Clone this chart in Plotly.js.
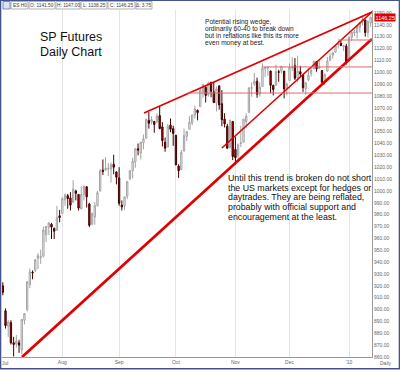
<!DOCTYPE html>
<html><head><meta charset="utf-8">
<script src="https://cdn.plot.ly/plotly-3.0.1.min.js"></script>
<style>html,body{margin:0;padding:0;background:#fff}#chart{width:400px;height:370px}</style>
</head><body><div id="chart"></div>
<script>
// ---- Data (ES H0 daily, Jul 2009 - Jan 2010) ----
const monthTickIdx = [0, 22, 43, 64, 86, 106, 128];
const monthTickLabels = ['Jul', 'Aug', 'Sep', 'Oct', 'Nov', 'Dec', "'10"];

const open = [
 920,899,886,889,872,871,872,866,891,900,921,931.5,933,943,944,945,963,969.5,972,968.5,967,979,
 981,992.5,996,994,990.5,1000,997,985,997,1003.5,989,972,978,987.5,1000,1017.5,1017.5,1018.5,1018.5,1022.5,1016,
 1011,988,987.5,995.5,1010,1017,1024.5,1035.5,1032,1040.5,1044.5,1059.5,1058,1058.5,1058,1063.5,1054,1041,1037,1055.5,1052.5,
 1047,1021,1018,1033.5,1046,1052,1057.5,1064,1068,1071,1083.5,1087.5,1081,1091.5,1083.5,1074,1088.5,1073.5,1060.5,1054.5,1036.5,1058.5,
 1035,1030,1040,1041,1058.5,1066,1086.5,1090,1092.5,1081.5,1088,1103,1103.5,1101,1089,1089,1100.5,1101,1101,1086.5,
 1093,1104,1105.5,1095.5,1100.5,1098,1086,1093.5,1099,1103,1109,1103.5,1101.5,1093,1101,1110,1114.5,1117,1123.5,1124.5,1121.5,1122,
 1111,1129.5,1133,1133.5,1138,1143,1144,1133.5,1141.5
];
const high = [
 923,901,891,891,877,878.5,874.5,892,897,923.5,934.5,933,942.5,947.5,950.5,970,970.5,973.5,973,969,987.5,984,
 994.5,998,997.5,999,1009,1001,997.5,1004,1004.5,1004,990,982,990.5,1000,1018.5,1026.5,1028.5,1023.5,1024,1030.5,1016.5,
 1020,992,995,1008,1017.5,1028,1035.5,1040,1041.5,1047.5,1060.5,1066.5,1063,1059,1065.5,1071.5,1058,1045,1056.5,1061,1055,
 1047,1022.5,1034.5,1052.5,1050.5,1063,1064,1072,1068.5,1086,1090,1088,1092,1092,1092,1088,1089,1085,1065.5,1056.5,1060,1059,
 1045.5,1040,1055,1060.5,1065.5,1087,1091.5,1099.5,1095.5,1091.5,1107.5,1104.5,1105.5,1101.5,1089.5,1106.5,1102,1105.5,1101,1091.5,
 1107.5,1112.5,1112,1114,1105.5,1098.5,1092,1103.5,1103.5,1110,1109.5,1111,1101.5,1099,1113,1116,1117,1122.5,1126.5,1126.5,1122.5,1124,
 1130,1133.5,1136,1139.5,1142.5,1147,1144.5,1144,1147
];
const low = [
 912,884,877,870.5,860.5,868,863.5,862.5,887.5,898.5,918,925.5,931.5,934,938.5,944,957,963,959.5,959.5,966.5,973.5,
 980.5,987.5,985,983.5,990,992,983.5,984.5,992,986,969.5,971,971.5,987,999.5,1013.5,1017,1012.5,1007,1014,1005.5,
 987.5,983.5,984,993,1009.5,1010.5,1019.5,1030,1026.5,1035,1044,1052.5,1056,1049,1057.5,1052,1037.5,1033,1037,1049.5,1038,
 1021.5,1011,1017.5,1033.5,1042,1052,1055.5,1061,1059.5,1071,1078.5,1074.5,1079.5,1079,1074,1067,1068.5,1054.5,1053.5,1035.5,1036,1026,
 1022,1027,1037,1041,1053,1066,1079.5,1088.5,1078.5,1079.5,1088,1096,1097,1082.5,1080.5,1089,1092,1099,1078,1080.5,
 1093,1101,1093.5,1091.5,1096,1083.5,1081,1092.5,1096.5,1102.5,1100.5,1103,1091,1089,1100.5,1109.5,1111.5,1116.5,1120,1122,1118,1106.5,
 1109,1126.5,1130.5,1128.5,1133.5,1139.5,1130,1129.5,1138.25
];
const close = [
 914.5,886.5,889.5,872,870.5,873.5,870,891.5,896.5,923.5,931.5,931,942,945.5,944.5,967,970,973,969.5,966,977.5,977.5,
 993.5,996.5,993.5,988,1001.5,998,985.5,997,1004,995,971,981,987.5,998.5,1017,1016.5,1019,1019,1022,1020,1011.5,
 989.5,986.5,995,1008,1017,1025,1035.5,1034.5,1041,1044,1060.5,1057,1060,1056,1063,1052.5,1042.5,1036,1054.5,1052,1048.5,
 1022,1017,1032.5,1046.5,1050,1058,1064,1069,1066,1085,1089.5,1080.5,1091,1084,1074.5,1086,1072.5,1060,1056.5,1036,1059.5,1029,
 1028,1039,1040.5,1060.5,1063,1087,1087,1092.5,1081.5,1087.5,1103.5,1104,1104,1089,1085.5,1100.5,1100,1105,1086,1090,
 1104,1104.5,1095,1101,1098.5,1087,1091,1097.5,1101.5,1109,1103,1104.5,1091.5,1098,1109.5,1113.5,1116.5,1122.5,1123.5,1122.5,1122.5,1108.5,
 1129.5,1133.5,1134,1138.5,1142,1144.5,1133.5,1142.5,1146.25
];

// Trend lines drawn on the chart: [x-index, price] endpoints
const wedgeTopX = [52.2, 136.5],  wedgeTopY = [1065.7, 1150.8];
const wedgeLowX = [81.0, 136.5],  wedgeLowY = [1036.2, 1150.8];
const supportX  = [7.1, 136.5],   supportY  = [860.0, 1128.1];
const levelStartX = [68.0, 95.8, 123.9];
const levelPrice  = [1082.5, 1104.5, 1127.2];
const levelEndX = 136.5;

const titleLines = ['SP Futures', 'Daily Chart'];
const noteTop = ['Potential rising wedge,', 'ordinarily 60-40 to break down',
  'but in reflations like this its more', 'even money at best.'];
const noteBottom = ['Until this trend is broken do not short', 'the US markets except for hedges or',
  'daytrades. They are being reflated,', 'probably with official support and', 'encouragement at the least.'];
const symbol = 'ES H0';

// ---- Layout helpers (pixel -> paper) ----
const L = 2, R = 28, T = 10, B = 13, W = 400, H = 370;
const PW = W - L - R, PH = H - T - B;
const px = p => (p - L) / PW;
const py = p => (H - B - p) / PH;
const FONT = 'Liberation Sans, Arial, sans-serif';

const xIdx = open.map((_, i) => i);
const last = open.length - 1;

const traces = [{
  type: 'candlestick', x: xIdx, open: open, high: high, low: low, close: close,
  increasing: {line: {color: '#a2a2a2', width: 1}, fillcolor: '#ffffff'},
  decreasing: {line: {color: '#400000', width: 1}, fillcolor: '#d00000'},
  whiskerwidth: 0, hoverinfo: 'skip', showlegend: false
}];
const redLine = (x, y, w, c) => ({type: 'scatter', mode: 'lines', x: x, y: y,
  line: {color: c, width: w}, hoverinfo: 'skip', showlegend: false});
traces.push(redLine(wedgeTopX, wedgeTopY, 1.6, '#e00000'));
traces.push(redLine(wedgeLowX, wedgeLowY, 1.6, '#e00000'));
traces.push(redLine(supportX, supportY, 2.8, '#e00000'));
levelStartX.forEach((x0, k) => traces.push(redLine([x0, levelEndX], [levelPrice[k], levelPrice[k]], 1, '#e06a6a')));

const ann = [];
titleLines.forEach((t, k) => ann.push({xref: 'paper', yref: 'paper', x: px(38), y: py(37 + 15 * k),
  xanchor: 'left', yanchor: 'middle', showarrow: false, text: t,
  font: {family: FONT, size: 12.5, color: '#111'}}));
noteTop.forEach((t, k) => ann.push({xref: 'paper', yref: 'paper', x: px(203), y: py(21.5 + 7.2 * k),
  xanchor: 'left', yanchor: 'middle', showarrow: false, text: t,
  font: {family: FONT, size: 6.6, color: '#222'}}));
noteBottom.forEach((t, k) => ann.push({xref: 'paper', yref: 'paper', x: px(227), y: py(178 + 9.7 * k),
  xanchor: 'left', yanchor: 'middle', showarrow: false, text: t, borderpad: 0,
  font: {family: FONT, size: 8.8, color: '#111'}}));
ann.push({xref: 'paper', yref: 'paper', x: px(386), y: py(363), xanchor: 'center', yanchor: 'middle',
  showarrow: false, text: 'Daily', font: {family: FONT, size: 5, color: '#666'}});
ann.push({xref: 'paper', yref: 'paper', x: px(-0.5), y: py(363), xanchor: 'left', yanchor: 'middle',
  showarrow: false, text: monthTickLabels[0], font: {family: FONT, size: 5, color: '#666'}});
ann.push({xref: 'paper', yref: 'y', x: px(373.5), y: close[last], xanchor: 'left', yanchor: 'middle',
  showarrow: false, text: close[last].toFixed(2), bgcolor: '#e00000', borderpad: 0.5,
  font: {family: FONT, size: 5.5, color: '#ffffff'}});

// header strip
const hdr = [symbol, 'O: ' + open[last].toFixed(2), 'H: ' + high[last].toFixed(2),
  'L: ' + low[last].toFixed(2), 'C: ' + close[last].toFixed(2),
  '\u0394: ' + (close[last] - close[last - 1]).toFixed(2)];
const hdrX = [[11, 28], [29, 55], [56, 80], [81, 107], [108, 135], [136, 152]];
const shapes = [];
hdr.forEach((t, k) => {
  shapes.push({type: 'rect', xref: 'paper', yref: 'paper', x0: px(hdrX[k][0]), x1: px(hdrX[k][1]),
    y0: py(9), y1: py(1.5), line: {color: '#a0a0a0', width: 0.8}, fillcolor: '#fbfbfb'});
  ann.push({xref: 'paper', yref: 'paper', x: px((hdrX[k][0] + hdrX[k][1]) / 2), y: py(5.3),
    xanchor: 'center', yanchor: 'middle', showarrow: false, text: t,
    font: {family: FONT, size: 4.8, color: '#444'}});
});
shapes.push({type: 'rect', xref: 'paper', yref: 'paper', x0: px(3), x1: px(10), y0: py(9), y1: py(1.5),
  line: {color: '#6070b0', width: 0.8}, fillcolor: '#dde3f5'});
// outer frame
shapes.push({type: 'rect', xref: 'paper', yref: 'paper', x0: px(0.6), x1: px(399.4), y0: py(368.8), y1: py(0.4),
  line: {color: '#44548a', width: 1.4}, fillcolor: 'rgba(0,0,0,0)'});

const ticktextShown = monthTickLabels.map((t, i) => i === 0 ? '' : t);
const layout = {
  width: W, height: H, margin: {l: L, r: R, t: T, b: B}, paper_bgcolor: '#fff', plot_bgcolor: '#fff',
  showlegend: false, dragmode: false,
  font: {family: FONT, size: 5, color: '#666'},
  xaxis: {range: [-0.3, 136.5], tickvals: monthTickIdx, ticktext: ticktextShown, showgrid: true,
    gridcolor: '#e4e4e4', gridwidth: 1, zeroline: false, showline: true, linecolor: '#9a9a9a',
    ticks: '', tickfont: {size: 5, color: '#666'}, rangeslider: {visible: false}, fixedrange: true},
  yaxis: {range: [860, 1152.5], side: 'right', dtick: 10, tick0: 860, tickformat: '.2f', showgrid: false,
    zeroline: false, showline: true, linecolor: '#9a9a9a', ticks: '', tickfont: {size: 5, color: '#666'},
    fixedrange: true},
  annotations: ann, shapes: shapes
};
Plotly.newPlot('chart', traces, layout, {staticPlot: true, displayModeBar: false});
</script></body></html>
